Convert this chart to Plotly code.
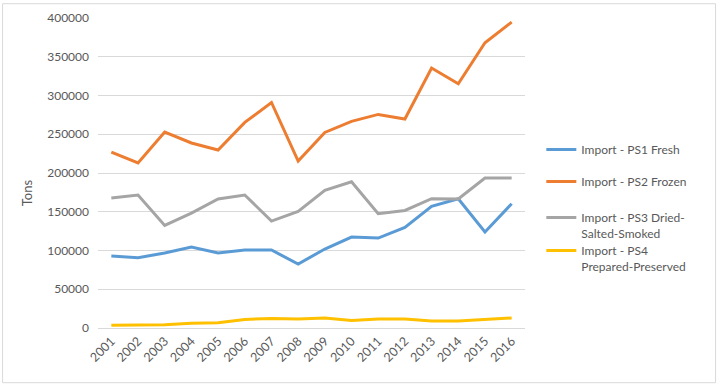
import plotly.graph_objects as go

years = [str(y) for y in range(2001, 2017)]
ps1_fresh = [92900, 90700, 96700, 104500, 96700, 100600, 100600, 82600, 101900, 117400, 116100, 129800, 156900, 166800, 123800, 160300]
ps2_frozen = [227000, 212900, 252800, 238700, 229600, 265300, 291000, 215400, 252400, 266600, 275600, 269600, 335400, 315100, 368000, 394700]
ps3_dried = [167700, 171600, 132400, 148300, 166400, 171600, 138000, 150400, 177500, 188700, 147400, 151700, 166800, 166400, 193500, 193500]
ps4_prepared = [3400, 3400, 4300, 6000, 6900, 11100, 12400, 11600, 12900, 9800, 11600, 11600, 9000, 9000, 10700, 12900]
y_ticks = [0, 50000, 100000, 150000, 200000, 250000, 300000, 350000, 400000]

names = ["Import - PS1 Fresh", "Import - PS2 Frozen", "Import - PS3 Dried-<br>Salted-Smoked", "Import - PS4<br>Prepared-Preserved"]
colors = ["#5B9BD5", "#ED7D31", "#A5A5A5", "#FFC000"]
series = [ps1_fresh, ps2_frozen, ps3_dried, ps4_prepared]
legend_ids = ["legend", "legend2", "legend3", "legend4"]

FONT = "Lato"
TXT = "#595959"

fig = go.Figure()
for name, col, vals, lg in zip(names, colors, series, legend_ids):
    fig.add_trace(go.Scatter(x=years, y=vals, mode="lines", name=name,
                             line=dict(color=col, width=3), legend=lg))

# pixel helpers for layout positions
L, R, T, B = 98.3, 524.7, 18.3, 328.3
def px(x):
    return (x - L) / (R - L)
def py(y):
    return (B - y) / (B - T)

legend_tops = [135.5, 167.5, 203.5, 236.5]
layout_legends = {}
for lg, top in zip(legend_ids, legend_tops):
    layout_legends[lg] = dict(x=px(541), y=py(top), xanchor="left", yanchor="top",
                              valign="top", bgcolor="rgba(0,0,0,0)",
                              font=dict(family=FONT, size=12, color=TXT))

fig.update_layout(
    width=723, height=389,
    margin=dict(l=L, r=723 - R, t=T, b=389 - B),
    paper_bgcolor="white", plot_bgcolor="white",
    font=dict(family=FONT, size=12, color=TXT),
    showlegend=True,
    xaxis=dict(type="category", range=[-0.5, 15.5], tickangle=-45, showgrid=False,
               showline=True, linecolor="#D9D9D9", linewidth=1, ticks="", automargin=False,
               tickfont=dict(family=FONT, size=12.5, color=TXT), fixedrange=True),
    yaxis=dict(range=[0, 400000], tickvals=y_ticks, ticktext=[str(v) for v in y_ticks],
               showgrid=True, gridcolor="#D9D9D9", gridwidth=1, zeroline=False,
               showline=False, ticks="", ticklabelstandoff=8, automargin=False,
               tickfont=dict(family=FONT, size=12, color=TXT), fixedrange=True),
    **layout_legends,
)

fig.add_annotation(text="Tons", xref="paper", yref="paper", x=px(27), y=py(193),
                   xanchor="center", yanchor="middle",
                   showarrow=False, textangle=-90, font=dict(family=FONT, size=13, color=TXT))

fig.add_shape(type="rect", xref="paper", yref="paper",
              x0=px(3), x1=px(715), y0=py(383), y1=py(4),
              line=dict(color="#D9D9D9", width=1), fillcolor="rgba(0,0,0,0)", layer="below")

fig.write_html("out.html", config={"displayModeBar": False},
               post_script="document.body.style.margin='0';")
